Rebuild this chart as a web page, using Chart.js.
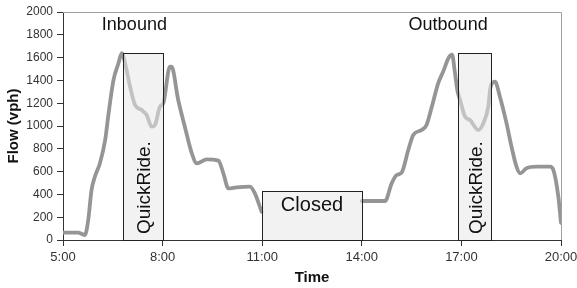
<!DOCTYPE html>
<html>
<head>
<meta charset="utf-8">
<script src="https://cdn.jsdelivr.net/npm/chart.js@4"></script>
<style>
  html, body { margin: 0; padding: 0; background: #fff; }
</style>
</head>
<body>
<canvas id="chart" width="577" height="288"></canvas>
<script>
// inbound flow (morning), hours of day vs vph
const inboundHours = [5.00, 5.45, 5.66, 5.76, 5.86, 5.96, 6.11, 6.27, 6.36, 6.52, 6.67, 6.77, 6.87, 7.02, 7.17, 7.37, 7.52, 7.67, 7.77, 7.92, 8.02, 8.22, 8.27, 8.47, 8.67, 8.88, 9.03, 9.33, 9.68, 9.83, 9.98, 10.23, 10.63, 10.78, 10.98];
const inboundFlow = [65, 65, 44, 175, 440, 555, 672, 877, 1082, 1403, 1550, 1640, 1550, 1345, 1184, 1140, 1096, 994, 1009, 1170, 1199, 1520, 1520, 1228, 994, 760, 672, 708, 696, 585, 453, 462, 468, 409, 248];

// outbound flow (afternoon)
const outboundHours = [14.0, 14.70, 14.90, 15.05, 15.20, 15.40, 15.55, 15.80, 15.95, 16.11, 16.30, 16.45, 16.62, 16.72, 16.80, 16.88, 16.96, 17.11, 17.26, 17.51, 17.66, 17.81, 17.88, 18.01, 18.16, 18.36, 18.51, 18.66, 18.77, 18.96, 19.27, 19.67, 19.77, 19.92, 20.0];
const outboundFlow = [342, 342, 497, 570, 591, 789, 921, 965, 1009, 1170, 1374, 1477, 1600, 1625, 1480, 1310, 1228, 1082, 1053, 965, 1023, 1170, 1345, 1389, 1257, 1023, 818, 643, 585, 629, 643, 643, 614, 380, 150];

// shaded periods
const boxLabels = ["QuickRide.", "Closed", "QuickRide."];
const boxStart = [6.8, 11, 16.9];
const boxEnd = [8.0, 14, 17.9];
const boxTop = [1640, 430, 1640];

const xTicks = [5, 8, 11, 14, 17, 20];
const fontFamily = "'Liberation Sans', Arial, sans-serif";
const lineColor = "#959595";

function toPoints(xs, ys) {
    return xs.map((x, i) => ({ x: x, y: ys[i] }));
}

const overlay = {
    id: "overlay",
    afterDatasetsDraw(chart) {
        const ctx = chart.ctx;
        const xs = chart.scales.x;
        const ys = chart.scales.y;
        const area = chart.chartArea;

        // frame on top and right
        ctx.save();
        ctx.strokeStyle = "#a0a0a0";
        ctx.lineWidth = 1;
        ctx.beginPath();
        ctx.moveTo(area.left, area.top + 0.5);
        ctx.lineTo(area.right + 0.5, area.top + 0.5);
        ctx.lineTo(area.right + 0.5, area.bottom);
        ctx.stroke();

        // boxes
        boxStart.forEach((s, i) => {
            const x0 = Math.round(xs.getPixelForValue(s)) + 0.5;
            const x1 = Math.round(xs.getPixelForValue(boxEnd[i])) + 0.5;
            const y0 = Math.round(ys.getPixelForValue(boxTop[i])) + 0.5;
            const y1 = Math.round(ys.getPixelForValue(0)) + 0.5;
            ctx.fillStyle = "rgba(232,232,232,0.55)";
            ctx.fillRect(x0, y0, x1 - x0, y1 - y0);
            ctx.strokeStyle = "#222";
            ctx.strokeRect(x0, y0, x1 - x0, y1 - y0);
        });

        ctx.fillStyle = "#111";
        ctx.textAlign = "center";
        ctx.textBaseline = "middle";

        // rotated QuickRide labels
        [0, 2].forEach(i => {
            const cx = xs.getPixelForValue((boxStart[i] + boxEnd[i]) / 2 + 0.05);
            const cy = ys.getPixelForValue(460);
            ctx.save();
            ctx.translate(cx, cy);
            ctx.rotate(-Math.PI / 2);
            ctx.font = "19px " + fontFamily;
            ctx.fillText(boxLabels[i], 0, 0);
            ctx.restore();
        });

        ctx.font = "20px " + fontFamily;
        ctx.fillText(boxLabels[1], xs.getPixelForValue(12.5), ys.getPixelForValue(305));

        ctx.font = "18px " + fontFamily;
        ctx.fillText("Inbound", xs.getPixelForValue(7.15), ys.getPixelForValue(1890));
        ctx.fillText("Outbound", xs.getPixelForValue(16.6), ys.getPixelForValue(1890));
        ctx.restore();
    }
};

const lineStyle = {
    borderColor: lineColor,
    borderWidth: 3.8,
    pointRadius: 0,
    fill: false,
    cubicInterpolationMode: "monotone",
    borderCapStyle: "round",
    borderJoinStyle: "round"
};

new Chart(document.getElementById("chart"), {
    type: "line",
    data: {
        datasets: [
            Object.assign({ label: "Inbound", data: toPoints(inboundHours, inboundFlow) }, lineStyle),
            Object.assign({ label: "Outbound", data: toPoints(outboundHours, outboundFlow) }, lineStyle)
        ]
    },
    options: {
        responsive: false,
        animation: false,
        layout: { padding: { top: 12, right: 16, left: 0, bottom: 0 } },
        plugins: { legend: { display: false }, tooltip: { enabled: false } },
        scales: {
            x: {
                type: "linear",
                min: 5,
                max: 20,
                afterFit: s => { s.height = 48; s.paddingLeft = 0; s.paddingRight = 0; },
                afterBuildTicks: s => { s.ticks = xTicks.map(v => ({ value: v })); },
                ticks: {
                    callback: v => v + ":00",
                    color: "#333",
                    padding: 4,
                    maxRotation: 0,
                    font: { family: fontFamily, size: 13 }
                },
                grid: { drawOnChartArea: false, tickLength: 6, color: "#333" },
                border: { color: "#333", width: 1 },
                title: {
                    display: true,
                    text: "Time",
                    color: "#111",
                    padding: { top: 0, bottom: 1 },
                    font: { family: fontFamily, size: 15, weight: "bold" }
                }
            },
            y: {
                min: 0,
                max: 2000,
                afterFit: s => { s.width = 63; s.paddingTop = 0; s.paddingBottom = 0; },
                ticks: {
                    stepSize: 200,
                    callback: v => String(v),
                    color: "#333",
                    padding: 4,
                    font: { family: fontFamily, size: 12 }
                },
                grid: { drawOnChartArea: false, tickLength: 6, color: "#333" },
                border: { color: "#333", width: 1 },
                title: {
                    display: true,
                    text: "Flow (vph)",
                    color: "#111",
                    padding: { top: 5, bottom: 0 },
                    font: { family: fontFamily, size: 15, weight: "bold" }
                }
            }
        }
    },
    plugins: [overlay]
});
</script>
</body>
</html>
